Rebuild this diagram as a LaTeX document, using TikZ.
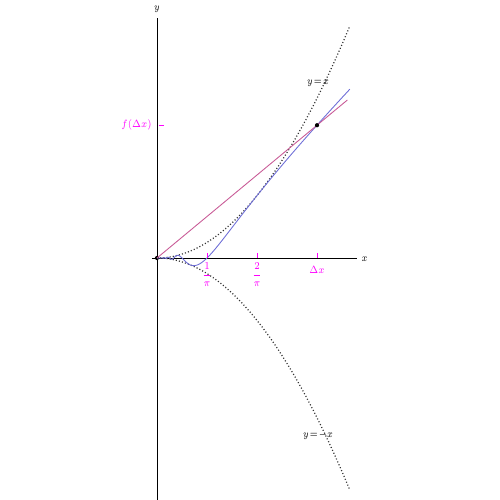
\documentclass[tikz,border=0pt]{standalone}
\usetikzlibrary{calc}
\definecolor{curveblue}{RGB}{110,110,215}
\definecolor{secpink}{RGB}{200,90,150}
\definecolor{lblmag}{RGB}{255,0,255}
\tikzset{
  axis/.style={line width=0.45pt,black},
  guide/.style={dash pattern=on 0.6pt off 1.2pt,line width=0.7pt,black!80},
  tickmark/.style={lblmag,line width=0.5pt},
  ticklabel/.style={lblmag,font=\fontsize{6.5}{7}\selectfont,inner sep=0pt,xscale=0.85},
  curvelabel/.style={font=\fontsize{6.5}{7}\selectfont,inner sep=0pt,xscale=0.8},
  dotpt/.style={circle,fill=black,inner sep=0pt,minimum size=2.4pt}
}
\begin{document}
\begin{tikzpicture}
\useasboundingbox (-3.14,-4.84) rectangle (6.86,5.16);
% axes
\coordinate (xs) at (-0.1,0);
\coordinate (xe) at (4.0,0);
\coordinate (ys) at (0,-4.84);
\coordinate (ye) at (0,4.8);
\draw[axis] (xs) -- (xe);
\draw[axis] (ys) -- (ye);
\node[curvelabel] (xl) at (4.15,-0.02) {$x$};
\node[curvelabel] (yl) at (0,4.98) {$y$};
\begin{scope}[x=3.1416cm,y=3.08cm]
  \node[dotpt] (O) at (0,0) {};
  \coordinate (P) at (1.0186,0.8622);
  % guide curves
  \draw[guide] plot[domain=0:1.2287,samples=80] (\x,{\x*\x});
  \draw[guide] plot[domain=0:1.2287,samples=80] (\x,{-\x*\x});
  % function
  \draw[curveblue,line width=0.5pt] (0,0) -- plot[domain=0.012:1.2287,samples=500,smooth] (\x,{\x*\x*sin(1/\x r)});
  % secant
  \draw[secpink,line width=0.5pt] (O.center) -- ($(O.center)!1.19!(P)$);
  \node[dotpt] (Pd) at (P) {};
  % ticks
  \coordinate (t1) at ({1/pi},0);
  \coordinate (t2) at ({2/pi},0);
  \coordinate (t3) at (1.0186,0);
  \coordinate (tf) at (0,0.8622);
\end{scope}
\draw[tickmark] (t1) -- ++(0,0.09);
\draw[tickmark] (t2) -- ++(0,0.09);
\draw[tickmark] (t3) -- ++(0,0.09);
\draw[tickmark] (tf) ++(0.04,0) -- ++(0.1,0);
\node[ticklabel,anchor=north] (l1) at ($(t1)+(0,-0.08)$) {$\displaystyle\frac{1}{\pi}$};
\node[ticklabel,anchor=north] (l2) at ($(t2)+(0,-0.08)$) {$\displaystyle\frac{2}{\pi}$};
\node[ticklabel,anchor=north] (l3) at ($(t3)+(0,-0.16)$) {$\Delta x$};
\node[ticklabel,anchor=east] (lf) at ($(tf)+(-0.1,0)$) {$f(\Delta x)$};
\node[curvelabel] (up) at (3.22,3.5) {$y\!=\!x$};
\node[curvelabel] (dn) at (3.22,-3.54) {$y\!=\!-x$};
\end{tikzpicture}
\end{document}
